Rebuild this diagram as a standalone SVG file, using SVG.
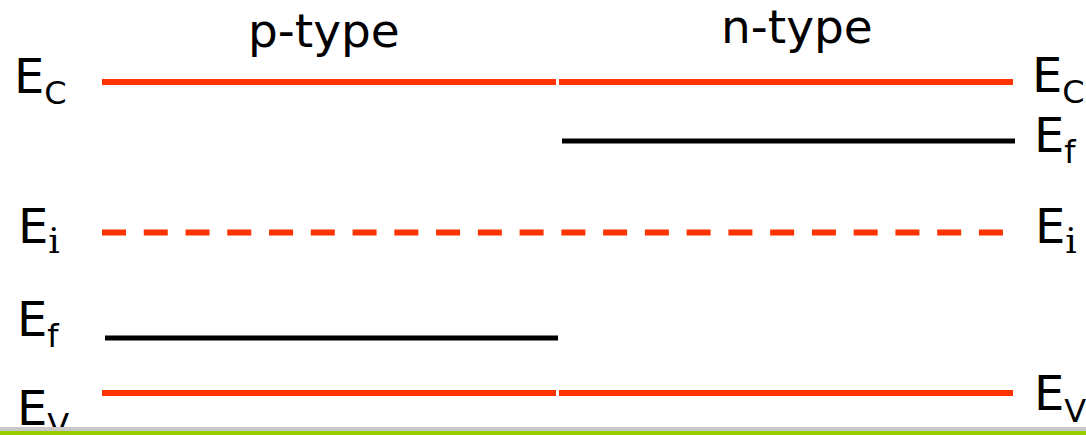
<svg xmlns="http://www.w3.org/2000/svg" width="1086" height="435" viewBox="0 0 1086 435">
  <style>
    .lbl { font-family: "DejaVu Sans", Verdana, sans-serif; fill: #000; }
    .big { font-size: 48px; }
    .sub { font-size: 32px; }
    .subi { font-family: "DejaVu Serif", "Liberation Serif", serif; font-size: 36px; }
    .head { font-size: 47px; }
    .band { stroke: #FF3300; stroke-width: 6; fill: none; }
    .fermi { stroke: #000; stroke-width: 5; fill: none; }
    .dash { stroke: #FF3300; stroke-width: 6; stroke-dasharray: 24 17.76; fill: none; }
  </style>
  <rect width="1086" height="435" fill="#fff"/>

  <!-- column headings -->
  <text id="p-type" class="lbl head" x="248" y="47">p-type</text>
  <text id="n-type" class="lbl head" x="721" y="43">n-type</text>

  <!-- energy levels -->
  <g id="levels">
    <line class="band" x1="102" y1="82" x2="556" y2="82"/>
    <line class="band" x1="559" y1="82" x2="1013" y2="82"/>
    <line class="fermi" x1="562" y1="141" x2="1015" y2="141"/>
    <line class="dash" x1="102" y1="232.5" x2="1004" y2="232.5"/>
    <line class="fermi" x1="105" y1="338" x2="558" y2="338"/>
    <line class="band" x1="102" y1="393" x2="556" y2="393"/>
    <line class="band" x1="559" y1="393" x2="1013" y2="393"/>
  </g>

  <!-- left labels -->
  <g id="left-labels">
    <text class="lbl big" x="14" y="93">E<tspan class="sub" dy="11">C</tspan></text>
    <text class="lbl big" x="18" y="243">E<tspan class="subi" dy="10">i</tspan></text>
    <text class="lbl big" x="17" y="336">E<tspan class="sub" dy="11">f</tspan></text>
    <text class="lbl big" x="17" y="425">E<tspan class="sub" dy="11">V</tspan></text>
  </g>

  <!-- right labels -->
  <g id="right-labels">
    <text class="lbl big" x="1032" y="92">E<tspan class="sub" dy="11">C</tspan></text>
    <text class="lbl big" x="1034" y="152">E<tspan class="sub" dy="11">f</tspan></text>
    <text class="lbl big" x="1035" y="243">E<tspan class="subi" dy="10">i</tspan></text>
    <text class="lbl big" x="1034" y="410">E<tspan class="sub" dy="12">V</tspan></text>
  </g>

  <!-- footer rule -->
  <rect x="0" y="427" width="1086" height="4" fill="#C8C8C8"/>
  <rect x="0" y="431" width="1086" height="4" fill="#99CC00"/>
</svg>
